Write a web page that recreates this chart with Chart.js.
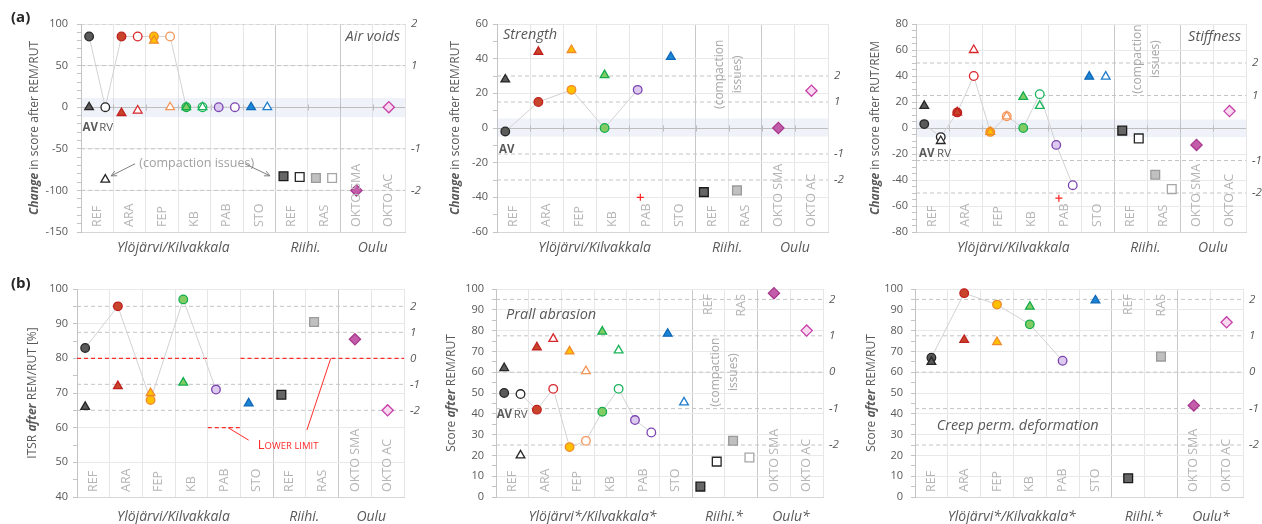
<!DOCTYPE html>
<html>
<head>
<meta charset="utf-8">
<script src="https://cdn.jsdelivr.net/npm/chart.js@4.4.0/dist/chart.umd.min.js"></script>
<style>
  html, body { margin: 0; padding: 0; background: #ffffff; }
  #wrap { position: relative; width: 1262px; height: 524px; overflow: hidden; background: #ffffff; }
  #wrap canvas { position: absolute; left: 0; top: 0; }
</style>
</head>
<body>
<div id="wrap"></div>
<script>
// ---------- categories ----------
const groupNames = ['REF', 'ARA', 'FEP', 'KB', 'PAB', 'STO', 'REF', 'RAS', 'OKTO SMA', 'OKTO AC'];
const regionNames = ['Ylöjärvi/Kilvakkala', 'Riihi.', 'Oulu'];
const regionNamesStar = ['Ylöjärvi*/Kilvakkala*', 'Riihi.*', 'Oulu*'];

// ---------- (a) Air voids: change in score ----------
const airCircleAV = [85, 85, 85, 0, 0];
const airCircleRV = [0, 85, 85, 0, 0];
const airTriAV = [0, -7, 80, 0, null, 0];
const airTriRV = [-87, -4, 0, 0, null, 0];
const airSquareAV = [-83, -85];
const airSquareRV = [-84, -85];
const airDiamond = [-100, 0];
const airTicks = [-150, 100, 50, 10];          // min, max, major step, minor step
const airScoreAt = [100, 50, -50, -100];
const airScoreLabels = ['2', '1', '-1', '-2'];
const airBand = [-12, 11];

// ---------- (a) Strength ----------
const strCircleAV = [-2, 15, 22, 0, 22];
const strTriAV = [28, 44, 45, 30.5, null, 41];
const strSquareAV = [-37, -36];
const strDiamond = [0, 21.5];
const strFlag = [-40];
const strTicks = [-60, 60, 20, 10];
const strScoreAt = [30, 15, -15, -30];
const strScoreLabels = ['2', '1', '-1', '-2'];
const strBand = [-5, 5.5];

// ---------- (a) Stiffness ----------
const stfCircleAV = [3, 12, -3, 0, -13];
const stfCircleRV = [-7, 40, 9, 26, -44];
const stfTriAV = [17, 12, -3, 24, null, 39.5];
const stfTriRV = [-10, 60, 9, 17, null, 39.5];
const stfSquareAV = [-2, -36];
const stfSquareRV = [-8, -47];
const stfDiamond = [-13, 13];
const stfFlag = [-54];
const stfTicks = [-80, 80, 20, 5];
const stfScoreAt = [50, 25, -25, -50];
const stfScoreLabels = ['2', '1', '-1', '-2'];
const stfBand = [-7, 6.5];

// ---------- (b) ITSR after REM/RUT ----------
const itsrCircle = [83, 95, 68, 97, 71];
const itsrTri = [66, 72, 70, 73, null, 67];
const itsrSquare = [69.5, 90.5];
const itsrDiamond = [85.5, 65];
const itsrLimit = [80, 80, 80, 80, 60, 80, 80, 80, 80, 80];
const itsrTicks = [40, 100, 10, 5];
const itsrScoreAt = [95, 87.5, 80, 72.5, 65];
const itsrScoreLabels = ['2', '1', '0', '-1', '-2'];

// ---------- (b) Prall abrasion ----------
const prallCircleAV = [50, 42, 24, 41, 37];
const prallCircleRV = [49.5, 52, 27, 52, 31];
const prallTriAV = [62, 72, 70, 79.5, null, 78.5];
const prallTriRV = [20, 76, 60.5, 70.5, null, 45.5];
const prallSquareAV = [5, 27];
const prallSquareRV = [17, 19];
const prallDiamond = [98, 80];
const prallTicks = [0, 100, 10, 5];
const prallScoreAt = [95, 77.5, 60, 42.5, 25];
const prallScoreLabels = ['2', '1', '0', '-1', '-2'];

// ---------- (b) Creep permanent deformation ----------
const creepCircle = [67, 98, 92.5, 83, 65.5];
const creepTri = [65, 75.5, 74.5, 91.5, null, 94.5];
const creepSquare = [9, 67.5];
const creepDiamond = [44, 84];
const creepTicks = [0, 100, 10, 5];
const creepScoreAt = [95, 77.5, 60, 42.5, 25];
const creepScoreLabels = ['2', '1', '0', '-1', '-2'];

// ---------- styling ----------
const FONT = "'Open Sans', 'DejaVu Sans', sans-serif";
const fillCol = ['#5a5a5a', '#c8452c', '#ffc000', '#83cc63', '#dccbee', '#1c86d6', '#666666', '#c0c0c0', '#c35ca9', '#f7daef'];
const edgeCol = ['#262626', '#c0201e', '#f08a2c', '#14ad4f', '#7b44b1', '#1068b8', '#1a1a1a', '#9a9a9a', '#a8388f', '#c83fa8'];
const openCol = ['#262626', '#d8262b', '#f4955a', '#19b35a', '#7b44b1', '#1e7dcc', '#262626', '#a6a6a6'];
const AV = 0.25, RV = 0.75, MID = 0.5;

function marks(vals, g0, off, shape, filled, r, order) {
  const data = [], bg = [], bd = [];
  vals.forEach((v, i) => {
    if (v === null || v === undefined) return;
    const g = g0 + i;
    data.push({ x: g + off, y: v });
    bg.push(filled ? fillCol[g] : '#ffffff');
    bd.push(filled ? edgeCol[g] : openCol[g]);
  });
  return {
    data, yAxisID: 'y', pointStyle: shape, pointRadius: r, pointHoverRadius: r,
    pointBorderWidth: 1.3, pointBackgroundColor: bg, pointBorderColor: bd,
    showLine: false, order, clip: false
  };
}
function trace(avVals, rvVals, offAV, offRV) {
  const data = [];
  avVals.forEach((v, i) => {
    if (v !== null) data.push({ x: i + offAV, y: v });
    if (rvVals && rvVals[i] !== null) data.push({ x: i + offRV, y: rvVals[i] });
  });
  return { data, yAxisID: 'y', showLine: true, borderColor: '#d2d2d2', borderWidth: 1, pointRadius: 0, order: 20, clip: false };
}
function hline(v, x0, x1, color) {
  return { data: [{ x: x0, y: v }, { x: x1, y: v }], yAxisID: 'y', showLine: true, borderColor: color,
    borderWidth: 1, borderDash: [4, 3], pointRadius: 0, order: 30 };
}
function flag(vals, xv) {
  return { data: vals.map(v => ({ x: xv, y: v })), yAxisID: 'y', pointStyle: 'cross', pointRadius: 3.5,
    pointBorderWidth: 1.2, pointBorderColor: '#ff2020', showLine: false, order: 1, clip: false };
}
function scoreLines(at, color) { return at.map(v => hline(v, 0, 10, color)); }
function limitLines(lim) {
  const out = [];
  let s = 0;
  for (let g = 1; g <= lim.length; g++) {
    if (g === lim.length || lim[g] !== lim[s]) { out.push(hline(lim[s], s, g, '#ff2a2a')); s = g; }
  }
  out.forEach(d => { d.borderWidth = 1.2; d.order = 25; });
  return out;
}

// ---------- panels ----------
const panels = [
  {
    area: [81, 405, 24, 232], ticks: airTicks, scoreAt: airScoreAt, scoreLabels: airScoreLabels, band: airBand,
    tickPad: 9, regions: regionNames, regionPos: [2.85, 6.93, 9.0], regionY: 248, topCats: [],
    yTitle: [['Change', 'italic 700'], [' in score after REM/RUT', '400']], yTitleX: 35,
    panelTag: ['(a)', 11, 18],
    title: { text: 'Air voids', side: 'right', dx: -5, dy: 13 },
    avrv: { av: [0.05, -25], rv: [0.56, -25] },
    datasets: [
      marks(airTriAV, 0, AV, 'triangle', true, 5, 5),
      marks(airTriRV, 0, RV, 'triangle', false, 5, 5),
      marks(airCircleAV, 0, AV, 'circle', true, 4.3, 10),
      marks(airCircleRV, 0, RV, 'circle', false, 4.3, 10),
      marks(airSquareAV, 6, AV, 'rect', true, 6.2, 10),
      marks(airSquareRV, 6, RV, 'rect', false, 6.2, 10),
      marks(airDiamond, 8, MID, 'rectRot', true, 5.6, 10),
      trace(airCircleAV, airCircleRV, AV, RV),
      ...scoreLines(airScoreAt, '#c4c4c4')
    ],
    extra: 'airNote'
  },
  {
    area: [497, 828, 24, 232], ticks: strTicks, scoreAt: strScoreAt, scoreLabels: strScoreLabels, band: strBand,
    tickPad: 5, regions: regionNames, regionPos: [2.95, 6.95, 9.0], regionY: 248, topCats: [],
    yTitle: [['Change', 'italic 700'], [' in score after REM/RUT', '400']], yTitleX: 456,
    title: { text: 'Strength', side: 'left', dx: 6, dy: 11 },
    avrv: { av: [0.06, -12.7] },
    compaction: { y: 31 },
    datasets: [
      flag(strFlag, 4.33),
      marks(strTriAV, 0, AV, 'triangle', true, 5, 5),
      marks(strCircleAV, 0, AV, 'circle', true, 4.3, 10),
      marks(strSquareAV, 6, AV, 'rect', true, 6.2, 10),
      marks(strDiamond, 8, MID, 'rectRot', true, 5.6, 10),
      trace(strCircleAV, null, AV, RV),
      ...scoreLines(strScoreAt, '#c4c4c4')
    ]
  },
  {
    area: [916, 1246, 24, 232], ticks: stfTicks, scoreAt: stfScoreAt, scoreLabels: stfScoreLabels, band: stfBand,
    tickPad: 4, regions: regionNames, regionPos: [2.95, 6.95, 9.0], regionY: 248, topCats: [],
    yTitle: [['Change', 'italic 700'], [' in score after RUT/REM', '400']], yTitleX: 876,
    title: { text: 'Stiffness', side: 'right', dx: -5, dy: 13 },
    avrv: { av: [0.09, -20], rv: [0.64, -20] },
    compaction: { y: 53 },
    datasets: [
      flag(stfFlag, 4.33),
      marks(stfTriAV, 0, AV, 'triangle', true, 5, 5),
      marks(stfTriRV, 0, RV, 'triangle', false, 5, 5),
      marks(stfCircleAV, 0, AV, 'circle', true, 4.3, 10),
      marks(stfCircleRV, 0, RV, 'circle', false, 4.3, 10),
      marks(stfSquareAV, 6, AV, 'rect', true, 6.2, 10),
      marks(stfSquareRV, 6, RV, 'rect', false, 6.2, 10),
      marks(stfDiamond, 8, MID, 'rectRot', true, 5.6, 10),
      trace(stfCircleAV, stfCircleRV, AV, RV),
      ...scoreLines(stfScoreAt, '#c4c4c4')
    ]
  },
  {
    area: [77, 404, 289, 497], ticks: itsrTicks, scoreAt: itsrScoreAt, scoreLabels: itsrScoreLabels,
    tickPad: 5, regions: regionNames, regionPos: [2.95, 6.95, 9.0], regionY: 517, topCats: [],
    yTitle: [['ITSR ', '400'], ['after', 'italic 700'], [' REM/RUT [%]', '400']], yTitleX: 33,
    panelTag: ['(b)', 11, 284],
    extra: 'lowerLimit',
    datasets: [
      marks(itsrTri, 0, AV, 'triangle', true, 5, 5),
      marks(itsrCircle, 0, AV, 'circle', true, 4.3, 10),
      marks(itsrSquare, 6, AV, 'rect', true, 6.2, 10),
      marks(itsrDiamond, 8, MID, 'rectRot', true, 5.6, 10),
      trace(itsrCircle, null, AV, RV),
      ...limitLines(itsrLimit),
      ...scoreLines(itsrScoreAt.filter((v, i) => itsrScoreLabels[i] !== '0'), '#c4c4c4')
    ]
  },
  {
    area: [496, 823, 289, 497], ticks: prallTicks, scoreAt: prallScoreAt, scoreLabels: prallScoreLabels,
    tickPad: 8, regions: regionNamesStar, regionPos: [2.95, 6.97, 9.02], regionY: 517, topCats: [6, 7],
    yTitle: [['Score ', '400'], ['after', 'italic 700'], [' REM/RUT', '400']], yTitleX: 452,
    title: { text: 'Prall abrasion', side: 'left', dx: 10, dy: 26 },
    avrv: { av: [0.02, 39.5], rv: [0.54, 39.5] },
    compaction: { y: 60 },
    datasets: [
      marks(prallTriAV, 0, AV, 'triangle', true, 5, 5),
      marks(prallTriRV, 0, RV, 'triangle', false, 5, 5),
      marks(prallCircleAV, 0, AV, 'circle', true, 4.3, 10),
      marks(prallCircleRV, 0, RV, 'circle', false, 4.3, 10),
      marks(prallSquareAV, 6, AV, 'rect', true, 6.2, 10),
      marks(prallSquareRV, 6, RV, 'rect', false, 6.2, 10),
      marks(prallDiamond, 8, MID, 'rectRot', true, 5.6, 10),
      trace(prallCircleAV, prallCircleRV, AV, RV),
      ...scoreLines(prallScoreAt, '#c4c4c4')
    ]
  },
  {
    area: [915, 1243, 289, 497], ticks: creepTicks, scoreAt: creepScoreAt, scoreLabels: creepScoreLabels,
    tickPad: 8, regions: regionNamesStar, regionPos: [2.95, 6.97, 9.02], regionY: 517, topCats: [6, 7],
    yTitle: [['Score ', '400'], ['after', 'italic 700'], [' REM/RUT', '400']], yTitleX: 872,
    titleAt: { text: 'Creep perm. deformation', x: 0.66, y: 34.4 },
    datasets: [
      marks(creepTri, 0, MID, 'triangle', true, 5, 5),
      marks(creepCircle, 0, MID, 'circle', true, 4.3, 10),
      marks(creepSquare, 6, MID, 'rect', true, 6.2, 10),
      marks(creepDiamond, 8, MID, 'rectRot', true, 5.6, 10),
      trace(creepCircle, null, MID, MID),
      ...scoreLines(creepScoreAt, '#c4c4c4')
    ]
  }
];

// ---------- drawing helpers ----------
function text(ctx, s, x, y, font, color, align, baseline, rot) {
  ctx.save();
  ctx.translate(x, y);
  if (rot) ctx.rotate(rot);
  ctx.font = font;
  ctx.fillStyle = color;
  ctx.textAlign = align || 'left';
  ctx.textBaseline = baseline || 'middle';
  ctx.fillText(s, 0, 0);
  ctx.restore();
}
function richVertical(ctx, parts, x, yc, size, color) {
  ctx.save();
  ctx.translate(x, yc);
  ctx.rotate(-Math.PI / 2);
  ctx.fillStyle = color;
  ctx.textBaseline = 'middle';
  ctx.textAlign = 'left';
  let total = 0;
  parts.forEach(p => { ctx.font = `${p[1]} ${size}px ${FONT}`; total += ctx.measureText(p[0]).width; });
  let cx = -total / 2;
  parts.forEach(p => { ctx.font = `${p[1]} ${size}px ${FONT}`; ctx.fillText(p[0], cx, 0); cx += ctx.measureText(p[0]).width; });
  ctx.restore();
}
function arrow(ctx, x0, y0, x1, y1, color) {
  ctx.save();
  ctx.strokeStyle = color; ctx.lineWidth = 1;
  ctx.beginPath(); ctx.moveTo(x0, y0); ctx.lineTo(x1, y1); ctx.stroke();
  const a = Math.atan2(y1 - y0, x1 - x0), h = 6;
  ctx.beginPath();
  ctx.moveTo(x1 - h * Math.cos(a - 0.45), y1 - h * Math.sin(a - 0.45));
  ctx.lineTo(x1, y1);
  ctx.lineTo(x1 - h * Math.cos(a + 0.45), y1 - h * Math.sin(a + 0.45));
  ctx.stroke();
  ctx.restore();
}

function decoPlugin(p) {
  return {
    id: 'deco',
    beforeDatasetsDraw(chart) {
      const { ctx, chartArea: a, scales: { x, y } } = chart;
      if (p.band) {
        const t = y.getPixelForValue(p.band[1]), b = y.getPixelForValue(p.band[0]);
        ctx.save();
        ctx.fillStyle = 'rgba(190,200,232,0.24)';
        ctx.fillRect(a.left, t, a.right - a.left, b - t);
        // horizontal axis through zero with group tick marks
        const y0 = Math.round(y.getPixelForValue(0)) + 0.5;
        ctx.strokeStyle = '#bdbdbd'; ctx.lineWidth = 1;
        ctx.beginPath(); ctx.moveTo(a.left, y0); ctx.lineTo(a.right, y0); ctx.stroke();
        for (let g = 1; g < 10; g++) {
          const gx = Math.round(x.getPixelForValue(g)) + 0.5;
          ctx.beginPath(); ctx.moveTo(gx, y0 - 3); ctx.lineTo(gx, y0 + 3); ctx.stroke();
        }
        ctx.restore();
      }
    },
    afterDraw(chart) {
      const { ctx, chartArea: a, scales: { x, y } } = chart;
      // category labels
      groupNames.forEach((n, g) => {
        const gx = x.getPixelForValue(g + 0.5);
        if (p.topCats.includes(g)) text(ctx, n, gx, a.top + 5, `400 12.5px ${FONT}`, '#b5b5b5', 'right', 'middle', -Math.PI / 2);
        else text(ctx, n, gx, a.bottom - 5, `400 12.5px ${FONT}`, '#b5b5b5', 'left', 'middle', -Math.PI / 2);
      });
      // region labels under the axis
      p.regions.forEach((n, i) => {
        text(ctx, n, x.getPixelForValue(p.regionPos[i]), p.regionY, `italic 400 14px ${FONT}`, '#595959', 'center', 'middle');
      });
      // axis title
      richVertical(ctx, p.yTitle, p.yTitleX, (a.top + a.bottom) / 2, 12, '#595959');
      if (p.panelTag) text(ctx, p.panelTag[0], p.panelTag[1], p.panelTag[2], `700 15px ${FONT}`, '#262626', 'left', 'middle');
      if (p.title) {
        const tx = p.title.side === 'right' ? a.right + p.title.dx : a.left + p.title.dx;
        text(ctx, p.title.text, tx, a.top + p.title.dy, `italic 400 14.5px ${FONT}`, '#595959', p.title.side, 'middle');
      }
      if (p.titleAt) {
        text(ctx, p.titleAt.text, x.getPixelForValue(p.titleAt.x), y.getPixelForValue(p.titleAt.y),
          `italic 400 14.5px ${FONT}`, '#595959', 'left', 'middle');
      }
      if (p.avrv) {
        text(ctx, 'AV', x.getPixelForValue(p.avrv.av[0]), y.getPixelForValue(p.avrv.av[1]), `700 11.5px ${FONT}`, '#595959', 'left', 'middle');
        if (p.avrv.rv) text(ctx, 'RV', x.getPixelForValue(p.avrv.rv[0]), y.getPixelForValue(p.avrv.rv[1]), `400 11.5px ${FONT}`, '#595959', 'left', 'middle');
      }
      if (p.compaction) {
        const cx = x.getPixelForValue(7), cy = y.getPixelForValue(p.compaction.y);
        text(ctx, '(compaction', cx - 9, cy, `400 12px ${FONT}`, '#a8a8a8', 'center', 'middle', -Math.PI / 2);
        text(ctx, 'issues)', cx + 9, cy, `400 12px ${FONT}`, '#a8a8a8', 'center', 'middle', -Math.PI / 2);
      }
      if (p.extra === 'airNote') {
        text(ctx, '(compaction issues)', x.getPixelForValue(1.8), y.getPixelForValue(-67), `400 12.5px ${FONT}`, '#a0a0a0', 'left', 'middle');
        arrow(ctx, x.getPixelForValue(1.67), y.getPixelForValue(-68), x.getPixelForValue(0.93), y.getPixelForValue(-82.5), '#7f7f7f');
        arrow(ctx, x.getPixelForValue(5.06), y.getPixelForValue(-68), x.getPixelForValue(5.83), y.getPixelForValue(-82.5), '#7f7f7f');
      }
      if (p.extra === 'lowerLimit') {
        ctx.save();
        ctx.strokeStyle = '#ff2a2a'; ctx.lineWidth = 1;
        ctx.beginPath();
        ctx.moveTo(x.getPixelForValue(4.62), y.getPixelForValue(60));
        ctx.lineTo(x.getPixelForValue(5.25), y.getPixelForValue(56.4));
        ctx.moveTo(x.getPixelForValue(7.03), y.getPixelForValue(59.3));
        ctx.lineTo(x.getPixelForValue(7.76), y.getPixelForValue(80));
        ctx.stroke();
        ctx.restore();
        const lx = x.getPixelForValue(5.53), ly = y.getPixelForValue(55.4);
        ctx.save();
        ctx.font = `400 13px ${FONT}`;
        ctx.fillStyle = '#ff2a2a'; ctx.textBaseline = 'alphabetic'; ctx.textAlign = 'left';
        ctx.fillText('L', lx, ly + 5);
        const w = ctx.measureText('L').width;
        ctx.font = `400 9.5px ${FONT}`;
        ctx.fillText('OWER LIMIT', lx + w, ly + 5);
        ctx.restore();
      }
    }
  };
}

// ---------- build the six charts ----------
const W = 1262, H = 524, LEFT_W = 60;
const wrap = document.getElementById('wrap');

panels.forEach(p => {
  const [L, R, T, B] = p.area;
  const [ymin, ymax, major, minor] = p.ticks;
  const rightW = Math.min(28, W - R);
  const isMajor = v => Math.abs(v / major - Math.round(v / major)) < 1e-6;
  const cv = document.createElement('canvas');
  cv.width = W; cv.height = H;
  wrap.appendChild(cv);
  new Chart(cv, {
    type: 'scatter',
    data: { datasets: p.datasets },
    options: {
      responsive: false, animation: false, devicePixelRatio: 1, events: [],
      layout: { padding: { left: L - LEFT_W, right: W - R - rightW, top: T, bottom: H - B } },
      plugins: { legend: { display: false }, tooltip: { enabled: false } },
      scales: {
        x: {
          type: 'linear', min: 0, max: 10,
          afterBuildTicks: s => { s.ticks = groupNames.map((n, i) => ({ value: i })).concat([{ value: 10 }]); },
          ticks: { display: false },
          grid: { color: c => (c.tick.value === 6 || c.tick.value === 8) ? '#c8c8c8' : '#e6e6e6', drawTicks: false },
          border: { display: true, color: '#d6d6d6' },
          afterFit: s => { s.height = 0; }
        },
        y: {
          type: 'linear', position: 'left', min: ymin, max: ymax,
          afterBuildTicks: s => {
            const t = [];
            for (let v = ymin; v <= ymax + 1e-9; v += minor) t.push({ value: Math.round(v * 1000) / 1000 });
            s.ticks = t;
          },
          ticks: {
            autoSkip: false, color: '#595959', padding: p.tickPad,
            font: { family: FONT, size: 11 },
            callback: v => isMajor(v) ? String(v) : ''
          },
          grid: {
            color: c => isMajor(c.tick.value) ? '#e9e9e9' : 'rgba(0,0,0,0)',
            tickColor: '#c4c4c4', tickLength: 4, drawTicks: true
          },
          border: { display: true, color: '#c4c4c4' },
          afterFit: s => { s.width = LEFT_W; }
        },
        y2: {
          type: 'linear', position: 'right', min: ymin, max: ymax,
          afterBuildTicks: s => { s.ticks = p.scoreAt.map(v => ({ value: v })); },
          ticks: {
            autoSkip: false, color: '#595959', padding: 6,
            font: { family: FONT, size: 11.5, style: 'italic' },
            callback: v => p.scoreLabels[p.scoreAt.indexOf(v)]
          },
          grid: { display: false, drawTicks: false },
          border: { display: false },
          afterFit: s => { s.width = rightW; }
        }
      }
    },
    plugins: [decoPlugin(p)]
  });
});
</script>
</body>
</html>
